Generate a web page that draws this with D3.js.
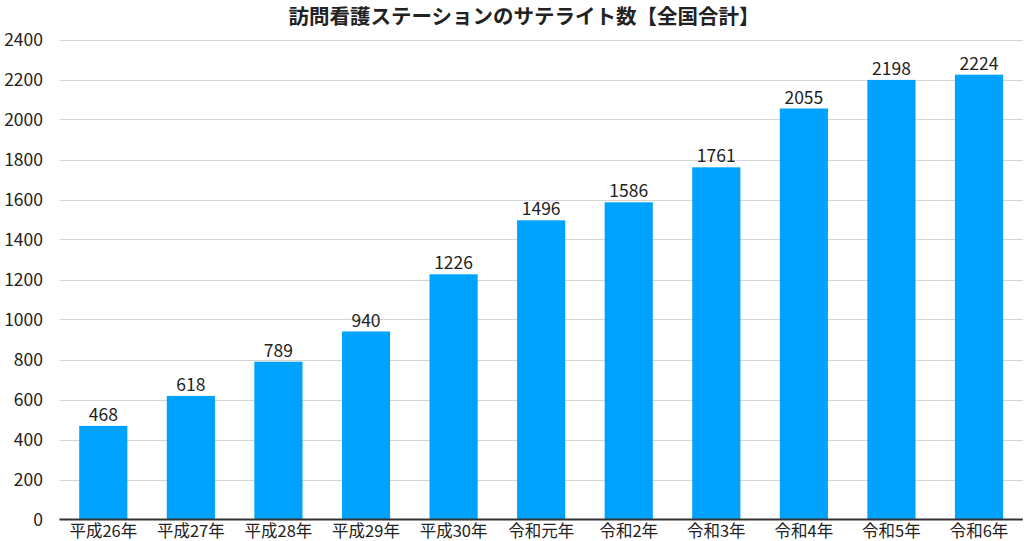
<!DOCTYPE html>
<html><head><meta charset="utf-8">
<script src="https://cdn.jsdelivr.net/npm/d3@7"></script>
<style>
html,body{margin:0;padding:0;background:#fff;}
svg{display:block;}
text{font-family:"Noto Sans CJK JP","Noto Sans",sans-serif;fill:#222;}
</style></head><body>
<svg id="c" width="1024" height="541"></svg>
<script>
const categories = ["平成26年","平成27年","平成28年","平成29年","平成30年","令和元年","令和2年","令和3年","令和4年","令和5年","令和6年"];
const values = [468, 618, 789, 940, 1226, 1496, 1586, 1761, 2055, 2198, 2224];
const yTicks = [0,200,400,600,800,1000,1200,1400,1600,1800,2000,2200,2400];
const title = "訪問看護ステーションのサテライト数【全国合計】";

(function(){
const svg = d3.select("#c");
const mLeft = 59.5, mRight = 1022.8, mTop = 39.5, mBottom = 519.5;

const x = d3.scaleBand().domain(categories).range([mLeft, mRight]).paddingInner(0.45).paddingOuter(0.225);
const y = d3.scaleLinear().domain([0, 2400]).range([mBottom, mTop]);

// gridlines
svg.append("g").selectAll("line").data(yTicks.filter(d=>d>0)).join("line")
  .attr("x1", mLeft+0.5).attr("x2", mRight)
  .attr("y1", d=>Math.round(y(d))+0.5).attr("y2", d=>Math.round(y(d))+0.5)
  .attr("stroke", "#d4d4d4").attr("stroke-width", 1);

// y axis labels
const yAxis = d3.axisLeft(y).tickValues(yTicks).tickFormat(d3.format("d")).tickSize(0).tickPadding(0);
const ga = svg.append("g").attr("transform", `translate(43,0)`).call(yAxis);
ga.select(".domain").remove();
ga.selectAll("text").attr("font-size", 17.5).attr("font-family", '"Noto Sans CJK JP",sans-serif').attr("fill","#222").attr("dy","0.35em");

// bars
svg.append("g").selectAll("rect").data(values).join("rect")
  .attr("x", (d,i)=>x(categories[i]))
  .attr("width", x.bandwidth())
  .attr("y", d=>y(d))
  .attr("height", d=>y(0)-y(d))
  .attr("fill", "#00a2ff");

// value labels
svg.append("g").selectAll("text").data(values).join("text")
  .attr("x", (d,i)=>x(categories[i]) + x.bandwidth()/2)
  .attr("y", d=>y(d)-5)
  .attr("text-anchor","middle")
  .attr("font-size", 17.5)
  .text(d=>d);

// x axis
const xAxis = d3.axisBottom(x).tickSize(0).tickPadding(0);
const gx = svg.append("g").attr("transform", `translate(0,${mBottom})`).call(xAxis);
gx.select(".domain").attr("stroke","#333").attr("stroke-width",2).attr("d", `M${mLeft},0H${mRight}`);
gx.selectAll("text").attr("font-size", 16.5).attr("font-family", '"Noto Sans CJK JP",sans-serif').attr("fill","#222").attr("dy", null).attr("y", 17.5);

// title
svg.append("text").attr("x", 524).attr("y", 23.5).attr("text-anchor","middle")
  .attr("font-size", 20.5).attr("font-weight","bold").text(title);
})();
</script>
</body></html>
